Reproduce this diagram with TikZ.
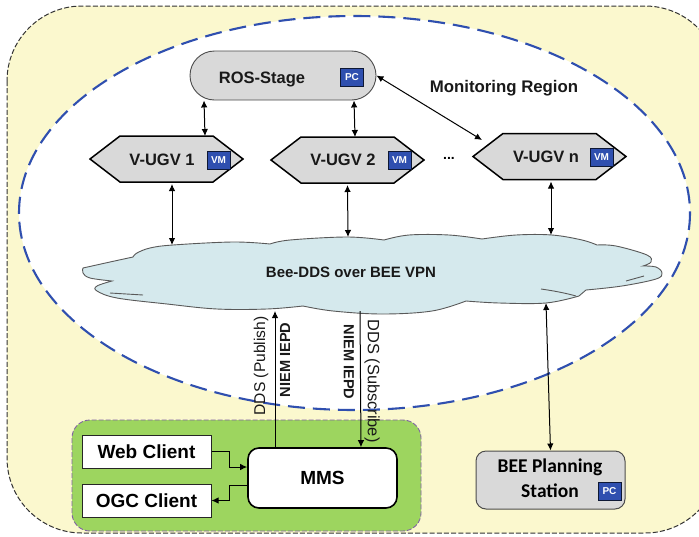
\documentclass[tikz,border=0pt]{standalone}
\usepackage{fontspec}
\setmainfont{Liberation Sans}
\newfontfamily\carl{Carlito}
\usetikzlibrary{arrows.meta,shapes.symbols,shapes.misc,calc}
\definecolor{yel}{HTML}{FBF8CE}
\definecolor{grn}{HTML}{9DD55F}
\definecolor{gry}{HTML}{D9D9D9}
\definecolor{cld}{HTML}{D5E9ED}
\definecolor{blu}{HTML}{2F4FAF}
\definecolor{pur}{HTML}{8064A2}
\newcommand{\fs}[1]{\fontsize{#1}{#1}\selectfont}
\tikzset{
  conn/.style={black,line width=1pt,{Latex[length=7pt,width=6.5pt]}-{Latex[length=7pt,width=6.5pt]}},
  oneway/.style={black,line width=1pt,-{Latex[length=7pt,width=6.5pt]}},
  hexa/.style={draw=black,line width=1.5pt,fill=gry,signal,signal to=west and east,signal pointer angle=75,
    minimum width=153pt,minimum height=46pt,inner sep=0pt,outer sep=0pt},
  badge/.style={fill=blu,draw=black!70!blu,line width=0.4pt,text=white,font=\bfseries\fs{10},
    minimum width=23pt,minimum height=18pt,inner sep=0pt},
  lab/.style={font=\bfseries\fs{16.5},text=black!90,inner sep=0pt},
  client/.style={draw=black!85,line width=1pt,fill=white,minimum width=129pt,minimum height=33pt,inner sep=0pt,
    font=\bfseries\fs{19}},
  vtext/.style={font=\fs{15.6},inner sep=0pt,text=black!90},
  vbold/.style={font=\bfseries\fs{14.6},inner sep=0pt,text=black!90},
}
\begin{document}
\begin{tikzpicture}[x=1pt,y=-1pt]
\useasboundingbox (0,0) rectangle (699,536);
\begin{scope}
\clip (0,0) rectangle (699,536);
\fill[white] (0,0) rectangle (699,536);
% outer region
\draw[fill=yel,draw=black!80,line width=1pt,dash pattern=on 5pt off 2.2pt,rounded corners=75pt]
  (7,6) rectangle (720,533);
\end{scope}
% monitoring region
\draw[fill=white,draw=blu,line width=2.1pt,dash pattern=on 17pt off 8pt] (354.5,213) ellipse [x radius=335.5,y radius=197];
% cloud
\draw[fill=cld,draw=black!65,line width=0.9pt]
  plot[smooth,tension=0.6] coordinates {(83,268) (110,262) (133,257)}
  -- plot[smooth,tension=0.6] coordinates {(133,257) (137,253) (150,248) (173,245) (233,242) (270,244)}
  -- plot[smooth,tension=0.6] coordinates {(270,244) (290,240) (347,237) (384,240)}
  -- plot[smooth,tension=0.6] coordinates {(384,240) (409,235) (449,235) (482,239)}
  -- plot[smooth,tension=0.6] coordinates {(482,239) (516,235) (552,235) (582,240) (597,245)}
  -- plot[smooth,tension=0.6] coordinates {(597,245) (616,246) (647,255) (651,262) (643,266)}
  -- plot[smooth,tension=0.6] coordinates {(643,266) (656,267) (662,273) (656,279) (622,286) (586,290)}
  -- plot[smooth,tension=0.6] coordinates {(586,290) (579,296)}
  -- plot[smooth,tension=0.6] coordinates {(579,296) (546,303) (499,303) (466,301)}
  -- plot[smooth,tension=0.6] coordinates {(466,301) (432,311) (382,314) (333,311) (303,306)}
  -- plot[smooth,tension=0.6] coordinates {(303,306) (267,309) (217,309) (167,304) (117,298) (97,291) (97,286) (112,281)}
  -- plot[smooth,tension=0.6] coordinates {(112,281) (90,278) (83,273) (83,268)} -- cycle;
\draw[black!65,line width=0.9pt] (110,293) -- (143,295);
\draw[black!65,line width=0.9pt] (541,289) .. controls (555,291) and (565,293) .. (576,296);
\draw[black!65,line width=0.9pt] (626,281) -- (644,276);
\coordinate (c1) at (172,245);
\coordinate (c2) at (348,237);
\coordinate (cn) at (551,235);
\coordinate (cb) at (546,303);
\coordinate (cp) at (275,311);
\coordinate (cs) at (360,311);
\node[font=\bfseries\fs{15},inner sep=0pt,text=black!90] (cloudlabel) at (351,272) {Bee-DDS over BEE VPN};
% ROS-Stage
\node[rounded rectangle,draw=black!70,line width=0.9pt,fill=gry,minimum width=186pt,minimum height=49pt,inner sep=0pt] (ros) at (283,75.5) {};
\node[lab] (roslabel) at (262,79) {ROS-Stage};
\node[badge] (rospc) at (352,77) {PC};
% hexagons
\node[hexa] (v1) at (166.5,159) {};
\node[hexa] (v2) at (347.5,160) {};
\node[hexa] (vn) at (549.5,156.5) {};
\node[lab] (v1label) at (162,160) {V-UGV 1};
\node[lab] (v2label) at (343,160) {V-UGV 2};
\node[lab] (vnlabel) at (546,157) {V-UGV n};
\node[badge] (v1vm) at (218.5,160) {VM};
\node[badge] (v2vm) at (399.5,160) {VM};
\node[badge] (vnvm) at (601.5,157.5) {VM};
\node[font=\bfseries\fs{14},inner sep=0pt] (dots) at (449,158) {...};
\node[font=\bfseries\fs{16.8},inner sep=0pt,text=black!90] (mon) at (504,88) {Monitoring Region};
% connectors in the upper part
\draw[conn] ([xshift=-79pt]ros.south) -- ([xshift=38.5pt]v1.north);
\draw[conn] ([xshift=71pt]ros.south) -- ([xshift=7.5pt]v2.north);
\draw[conn] (ros.east) -- ([xshift=-67.5pt,yshift=-6.5pt]vn.north);
\draw[conn] ([xshift=5.5pt,yshift=-2pt]v1.south) -- (c1);
\draw[conn] ([yshift=-2pt]v2.south) -- (c2);
\draw[conn] ([xshift=1.5pt,yshift=-2pt]vn.south) -- (cn);
% green area
\draw[fill=grn,draw=pur,line width=0.9pt,dash pattern=on 5pt off 2pt,rounded corners=18pt] (72,420) rectangle (421,531);
\node[client] (web) at (146.5,451.5) {Web Client};
\node[client] (ogc) at (146.5,500.5) {OGC Client};
\node[draw=black,line width=1.6pt,fill=white,rounded corners=11pt,minimum width=149pt,minimum height=60pt,inner sep=0pt,font=\bfseries\fs{19}] (mms) at (322.5,478) {MMS};
\draw[oneway] (web.east) -- ++(18,0) |- ([yshift=11pt]mms.west);
\draw[oneway] ([yshift=-7pt]mms.west) -- ++(-18,0) |- (ogc.east);
% station
\node[draw=black!70,line width=1pt,fill=gry,rounded corners=10pt,minimum width=149pt,minimum height=58pt,inner sep=0pt] (bee) at (550.5,480) {};
\node[font=\carl\bfseries\fs{19.5},inner sep=0pt] (beea) at (550,467) {BEE Planning};
\node[font=\carl\bfseries\fs{19.5},inner sep=0pt] (beeb) at (550,491) {Station};
\node[badge] (beepc) at (609.5,491) {PC};
\draw[conn] (cb) -- (bee.north);
% vertical links
\draw[oneway] ([xshift=-47.5pt]mms.north) -- (cp);
\draw[oneway] (cs) -- ([xshift=38.5pt]mms.north);
\node[vtext,rotate=90] (pub) at (261,366) {DDS (Publish)};
\node[vbold,rotate=90] (niema) at (285,360) {NIEM IEPD};
\node[vbold,rotate=-90] (niemb) at (349,362) {NIEM IEPD};
\node[vtext,font=\fs{16.4},rotate=-90] (sub) at (372,381) {DDS (Subscribe)};
\end{tikzpicture}
\end{document}
